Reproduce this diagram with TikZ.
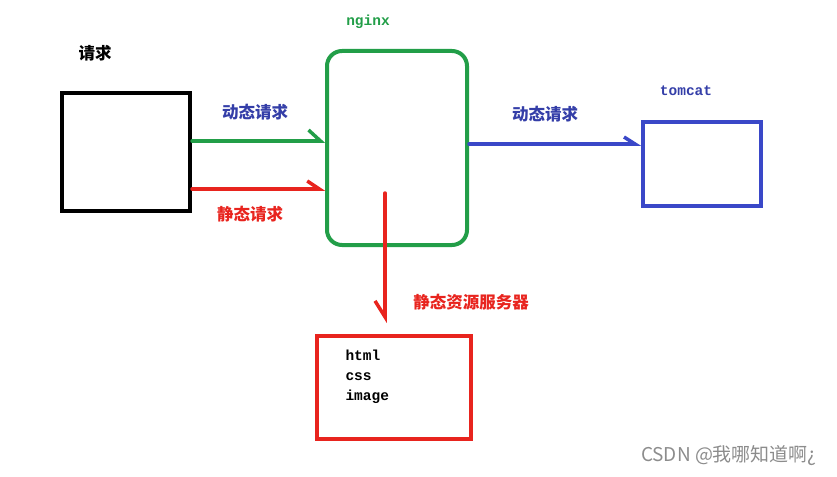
\documentclass[tikz,border=0pt]{standalone}
\usepackage{fontspec}
\newfontfamily\cjk{Noto Sans CJK SC}
\newfontfamily\mono{Liberation Mono}
\usetikzlibrary{arrows.meta}
\definecolor{ngreen}{RGB}{34,158,72}
\definecolor{nblue}{RGB}{58,72,200}
\definecolor{nred}{RGB}{232,36,30}
\definecolor{tblue}{RGB}{52,62,168}
\tikzset{
    box/.style={draw, line width=4pt, inner sep=0pt},
    conn/.style={line width=3.5pt, line cap=round},
    zh/.style={font=\cjk\bfseries\fontsize{16.5}{16.5}\selectfont},
    code/.style={font=\mono\bfseries\fontsize{14.5}{20}\selectfont},
}
\begin{document}
\begin{tikzpicture}[x=1pt, y=-1pt]
\useasboundingbox (0,0) rectangle (837,476);
% client
\node[box, minimum width=128pt, minimum height=118pt] (client) at (126,152) {};
\node[zh] (clientlbl) at (95,53) {请求};
% nginx
\node[box, draw=ngreen, rounded corners=15pt, minimum width=140pt, minimum height=194pt] (nginx) at (397,148) {};
\node[code, text=ngreen] (nginxlbl) at (368,22) {nginx};
% tomcat
\node[box, draw=nblue, minimum width=118pt, minimum height=84pt] (tomcat) at (702,164) {};
\node[code, text=tblue] (tomcatlbl) at (686,91) {tomcat};
% static server
\node[box, draw=nred, minimum width=154pt, minimum height=103pt] (static) at (394,387.5) {};
\node[code, align=left, anchor=north west] (files) at (342,346) {html\\css\\image};
% connectors
\draw[conn, ngreen, -{Straight Barb[left, length=12pt, width=22pt, line width=3.5pt]}]
    ([yshift=11pt]client.east) -- ([yshift=11pt]client.east -| nginx.west);
\draw[conn, nred, -{Straight Barb[left, length=12pt, width=16pt, line width=3.5pt]}]
    ([yshift=-37pt]client.east) -- ([yshift=-37pt]client.east -| nginx.west);
\draw[conn, nblue, -{Straight Barb[left, length=11pt, width=14pt, line width=3.5pt]}]
    ([yshift=4pt]nginx.east) -- ([yshift=4pt]nginx.east -| tomcat.west);
\coordinate (down) at ([xshift=-12pt, yshift=-45pt]nginx.center);
\draw[conn, nred, shorten >=11pt, -{Straight Barb[right, length=16pt, width=20pt, line width=3.5pt]}]
    (down) -- (down |- static.north);
% labels
\node[zh, text=tblue] (dyn1) at (255,112) {动态请求};
\node[zh, text=nred] (sta1) at (250,214) {静态请求};
\node[zh, text=tblue] (dyn2) at (545,114) {动态请求};
\node[zh, text=nred] (sta2) at (471,302) {静态资源服务器};
\node[font=\cjk\fontsize{19}{19}\selectfont, text=black!45] (mark) at (729,456) {CSDN @我哪知道啊¿};
\end{tikzpicture}
\end{document}
